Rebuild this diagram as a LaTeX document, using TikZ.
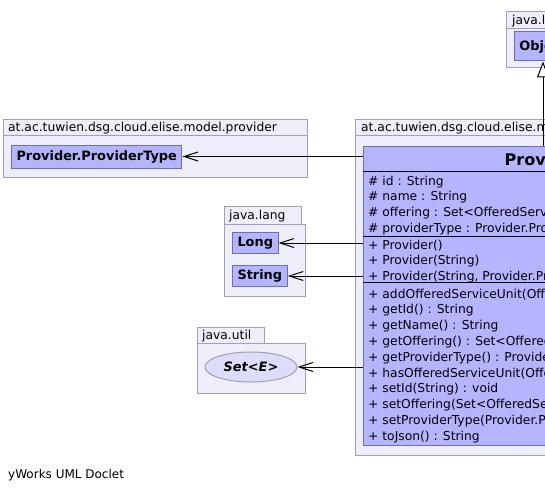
\documentclass[tikz,border=0pt]{standalone}
\usepackage{fontspec}
\setmainfont{DejaVu Sans}
\usetikzlibrary{arrows.meta,shapes.geometric}
\definecolor{pkgfill}{RGB}{238,238,250}
\definecolor{pkgline}{RGB}{160,160,176}
\definecolor{clsfill}{RGB}{180,180,255}
\definecolor{clsline}{RGB}{110,110,180}
\definecolor{ifcfill}{RGB}{221,221,250}
\newcommand{\memfont}{\fontsize{12.3}{14}\selectfont}
\newcommand{\clsfont}{\fontsize{12.9}{15}\selectfont}

\begin{document}
\begin{tikzpicture}[x=1pt,y=-1pt,
  pkg/.style={draw=pkgline,fill=pkgfill,line width=1pt},
  cls/.style={draw=clsline,fill=clsfill,line width=1pt,inner xsep=5pt,inner ysep=0pt,font=\bfseries\clsfont},
  member/.style={anchor=base west,inner sep=0pt,font=\memfont},
  uses/.style={-{Straight Barb[length=14pt,width=9pt]},line width=1pt},
  inherit/.style={-{Triangle[length=16pt,width=12pt,fill=white]},line width=1pt},
  sep/.style={line width=1pt}]
\useasboundingbox (0,0) rectangle (545,492);
\clip (0,0) rectangle (545,492);

% packages
\draw[pkg] (506,12) rectangle (580,29);
\draw[pkg] (506,29) rectangle (590,68);
\node[member] (pkgobj) at (512,25) {java.lang};

\draw[pkg] (3,119) rectangle (307,135);
\draw[pkg] (3,135) rectangle (307,177);
\node[member] (pkgtype) at (8,131) {at.ac.tuwien.dsg.cloud.elise.model.provider};

\draw[pkg] (355,119) rectangle (640,135);
\draw[pkg] (355,135) rectangle (731,455);
\node[member] (pkgprov) at (361,131) {at.ac.tuwien.dsg.cloud.elise.model.provider};

\draw[pkg] (224,206) rectangle (301,224);
\draw[pkg] (224,224) rectangle (305,296);
\node[member] (pkglang) at (229,219.5) {java.lang};

\draw[pkg] (197,327) rectangle (264,343);
\draw[pkg] (197,343) rectangle (305,393);
\node[member] (pkgutil) at (202,339.5) {java.util};

% classes
\node[cls,minimum height=29pt,anchor=center] (objcls) at (543,46.5) {Object};
\node[cls,minimum height=23pt,anchor=west] (ptype) at (11,156.5) {Provider.ProviderType};
\node[cls,minimum height=21pt,anchor=west] (long) at (232,243) {Long};
\node[cls,minimum height=21pt,anchor=west] (string) at (232,276) {String};
\node[ellipse,draw=pkgline,fill=ifcfill,line width=1pt,minimum width=92pt,minimum height=30pt,
  font=\bfseries\itshape\clsfont] (set) at (251,367) {Set<E>};

% Provider
\node[cls,anchor=north west,minimum width=360pt,minimum height=299pt] (prov) at (363,146) {};
\node[anchor=base,inner sep=0pt,font=\bfseries\fontsize{16}{18}\selectfont] (provname) at (543,165) {Provider};
\draw[sep] (363,171) -- (723,171);
\draw[sep] (363,236.5) -- (723,236.5);
\draw[sep] (363,282) -- (723,282);
\node[member] (a1) at (368,185) {\# id : String};
\node[member] (a2) at (368,200.8) {\# name : String};
\node[member] (a3) at (368,216.6) {\# offering : Set<OfferedServiceUnit>};
\node[member] (a4) at (368,232.4) {\# providerType : Provider.ProviderType};
\node[member] (c1) at (368,249) {+ Provider()};
\node[member] (c2) at (368,264.5) {+ Provider(String)};
\node[member] (c3) at (368,280) {+ Provider(String, Provider.ProviderType)};
\node[member] (m1) at (368,298) {+ addOfferedServiceUnit(OfferedServiceUnit) : void};
\node[member] (m2) at (368,313.8) {+ getId() : String};
\node[member] (m3) at (368,329.6) {+ getName() : String};
\node[member] (m4) at (368,345.4) {+ getOffering() : Set<OfferedServiceUnit>};
\node[member] (m5) at (368,361.2) {+ getProviderType() : Provider.ProviderType};
\node[member] (m6) at (368,377) {+ hasOfferedServiceUnit(OfferedServiceUnit) : boolean};
\node[member] (m7) at (368,392.8) {+ setId(String) : void};
\node[member] (m8) at (368,408.6) {+ setOffering(Set<OfferedServiceUnit>) : void};
\node[member] (m9) at (368,424.4) {+ setProviderType(Provider.ProviderType) : void};
\node[member] (m10) at (368,440.2) {+ toJson() : String};

% connectors
\draw[inherit] (prov.north -| objcls.south) -- (objcls.south);
\draw[uses] (ptype.east -| prov.west) -- (ptype.east);
\draw[uses] (long.east -| prov.west) -- (long.east);
\draw[uses] (string.east -| prov.west) -- (string.east);
\draw[uses] (set.east -| prov.west) -- (set.east);

\node[anchor=base west,inner sep=0pt,font=\fontsize{12}{14}\selectfont] (doclet) at (8,478) {yWorks UML Doclet};
\end{tikzpicture}
\end{document}
